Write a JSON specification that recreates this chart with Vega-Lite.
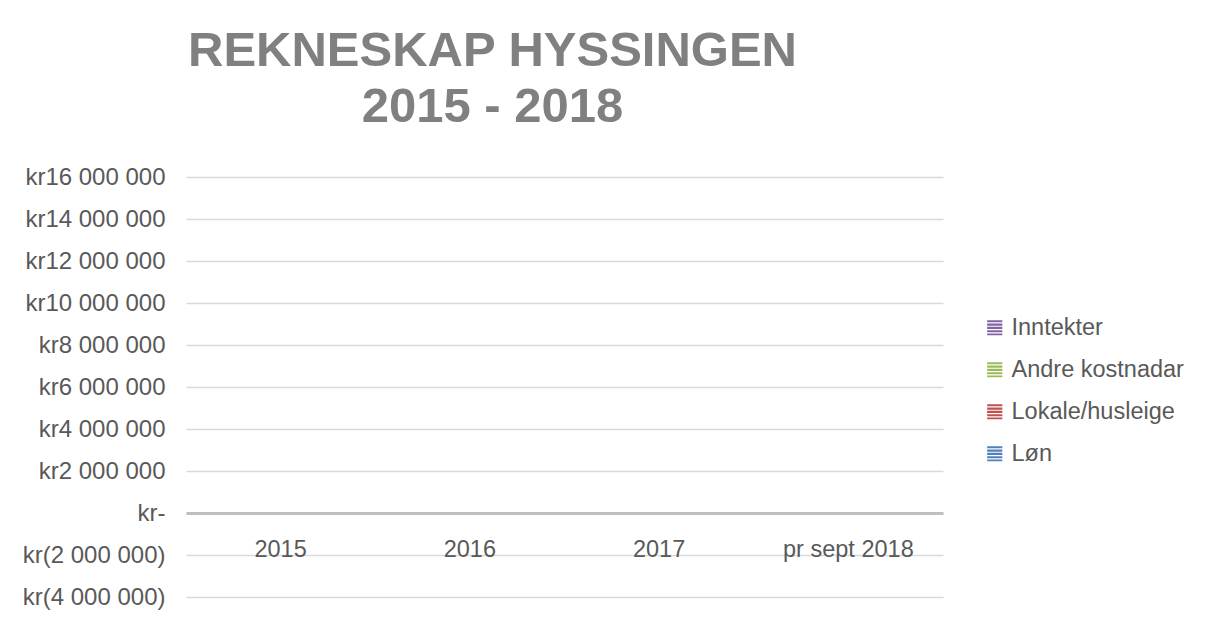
{
  "$schema": "https://vega.github.io/schema/vega-lite/v6.json",
  "autosize": {"type": "none"},
  "width": 757,
  "height": 420,
  "padding": {"left": 186, "top": 177, "right": 262, "bottom": 22},
  "background": "white",
  "config": {
    "font": "Liberation Sans",
    "view": {"stroke": null},
    "locale": {"number": {"decimal": ",", "thousands": " ", "grouping": [3], "currency": ["kr", ""]}}
  },
  "title": {
    "text": ["REKNESKAP HYSSINGEN", "2015 - 2018"],
    "font": "Liberation Sans",
    "fontSize": 49,
    "fontWeight": "bold",
    "color": "#808080",
    "anchor": "middle",
    "dx": -72,
    "lineHeight": 56,
    "offset": 33
  },
  "data": {
    "values": [
      {"period": "2015", "series": "Løn", "amount": 0},
      {"period": "2015", "series": "Lokale/husleige", "amount": 0},
      {"period": "2015", "series": "Andre kostnadar", "amount": 0},
      {"period": "2015", "series": "Inntekter", "amount": 0},
      {"period": "2016", "series": "Løn", "amount": 0},
      {"period": "2016", "series": "Lokale/husleige", "amount": 0},
      {"period": "2016", "series": "Andre kostnadar", "amount": 0},
      {"period": "2016", "series": "Inntekter", "amount": 0},
      {"period": "2017", "series": "Løn", "amount": 0},
      {"period": "2017", "series": "Lokale/husleige", "amount": 0},
      {"period": "2017", "series": "Andre kostnadar", "amount": 0},
      {"period": "2017", "series": "Inntekter", "amount": 0},
      {"period": "pr sept 2018", "series": "Løn", "amount": 0},
      {"period": "pr sept 2018", "series": "Lokale/husleige", "amount": 0},
      {"period": "pr sept 2018", "series": "Andre kostnadar", "amount": 0},
      {"period": "pr sept 2018", "series": "Inntekter", "amount": 0}
    ]
  },
  "mark": {"type": "bar", "strokeWidth": 0},
  "encoding": {
    "x": {
      "field": "period",
      "type": "nominal",
      "sort": null,
      "scale": {"paddingInner": 0.4, "paddingOuter": 0.2},
      "axis": {
        "title": null,
        "orient": "bottom",
        "offset": -84,
        "labelAngle": 0,
        "labelFontSize": 23.5,
        "labelColor": "#595959",
        "labelPadding": 24,
        "labelLimit": 300,
        "ticks": false,
        "domain": true,
        "domainColor": "#BFBFBF",
        "domainWidth": 3,
        "grid": false
      }
    },
    "y": {
      "field": "amount",
      "type": "quantitative",
      "stack": "zero",
      "scale": {"domain": [-4000000, 16000000], "nice": false, "zero": false},
      "axis": {
        "title": null,
        "values": [-4000000, -2000000, 0, 2000000, 4000000, 6000000, 8000000, 10000000, 12000000, 14000000, 16000000],
        "format": ",d",
        "labelExpr": "datum.value == 0 ? 'kr-' : (datum.value < 0 ? 'kr(' + format(-datum.value, ',d') + ')' : 'kr' + datum.label)",
        "labelFontSize": 24,
        "labelColor": "#595959",
        "labelPadding": 21,
        "labelLimit": 300,
        "ticks": false,
        "domain": false,
        "grid": true,
        "gridColor": "#D9D9D9",
        "gridWidth": 1.3
      }
    },
    "color": {
      "field": "series",
      "type": "nominal",
      "scale": {
        "domain": ["Inntekter", "Andre kostnadar", "Lokale/husleige", "Løn"],
        "range": ["#8064A2", "#9BBB59", "#C0504D", "#4F81BD"]
      },
      "legend": {
        "title": null,
        "orient": "none",
        "legendX": 797,
        "legendY": 139,
        "padding": 0,
        "labelFontSize": 23.5,
        "labelColor": "#595959",
        "labelOffset": 5,
        "labelLimit": 400,
        "rowPadding": 17,
        "symbolSize": 230,
        "symbolStrokeWidth": 0,
        "symbolType": "M-1,-1H1V-0.72H-1Z M-1,-0.56H1V-0.28H-1Z M-1,-0.12H1V0.16H-1Z M-1,0.32H1V0.6H-1Z M-1,0.76H1V1H-1Z"
      }
    },
    "order": {"field": "series"}
  }
}
